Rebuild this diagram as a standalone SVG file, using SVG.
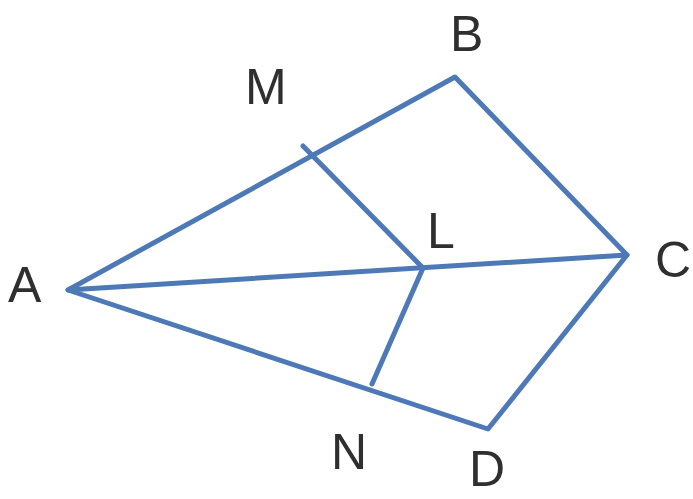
<svg xmlns="http://www.w3.org/2000/svg" width="693" height="499" viewBox="0 0 693 499">
<style>
.e{stroke:#4d79b6;stroke-width:5;fill:none;stroke-linecap:round;stroke-linejoin:round}
.t{font-family:"Liberation Sans",Arial,sans-serif;font-size:50px;fill:#2f2f2f}
</style>
<rect width="693" height="499" fill="#ffffff"/>
<g id="connectors">
<polygon class="e" points="68,290 455,77 627,255 488,429"/>
<line class="e" x1="68" y1="290" x2="627" y2="255"/>
<line class="e" x1="303" y1="146" x2="423" y2="268"/>
<line class="e" x1="423" y1="268" x2="372" y2="384"/>
</g>
<g id="A"><text class="t" x="8" y="302">A</text></g>
<g id="B"><text class="t" x="450" y="51">B</text></g>
<g id="C"><text class="t" x="655" y="277">C</text></g>
<g id="D"><text class="t" x="469" y="486">D</text></g>
<g id="L"><text class="t" x="427" y="248">L</text></g>
<g id="M"><text class="t" x="245" y="104">M</text></g>
<g id="N"><text class="t" x="331" y="469">N</text></g>
</svg>
